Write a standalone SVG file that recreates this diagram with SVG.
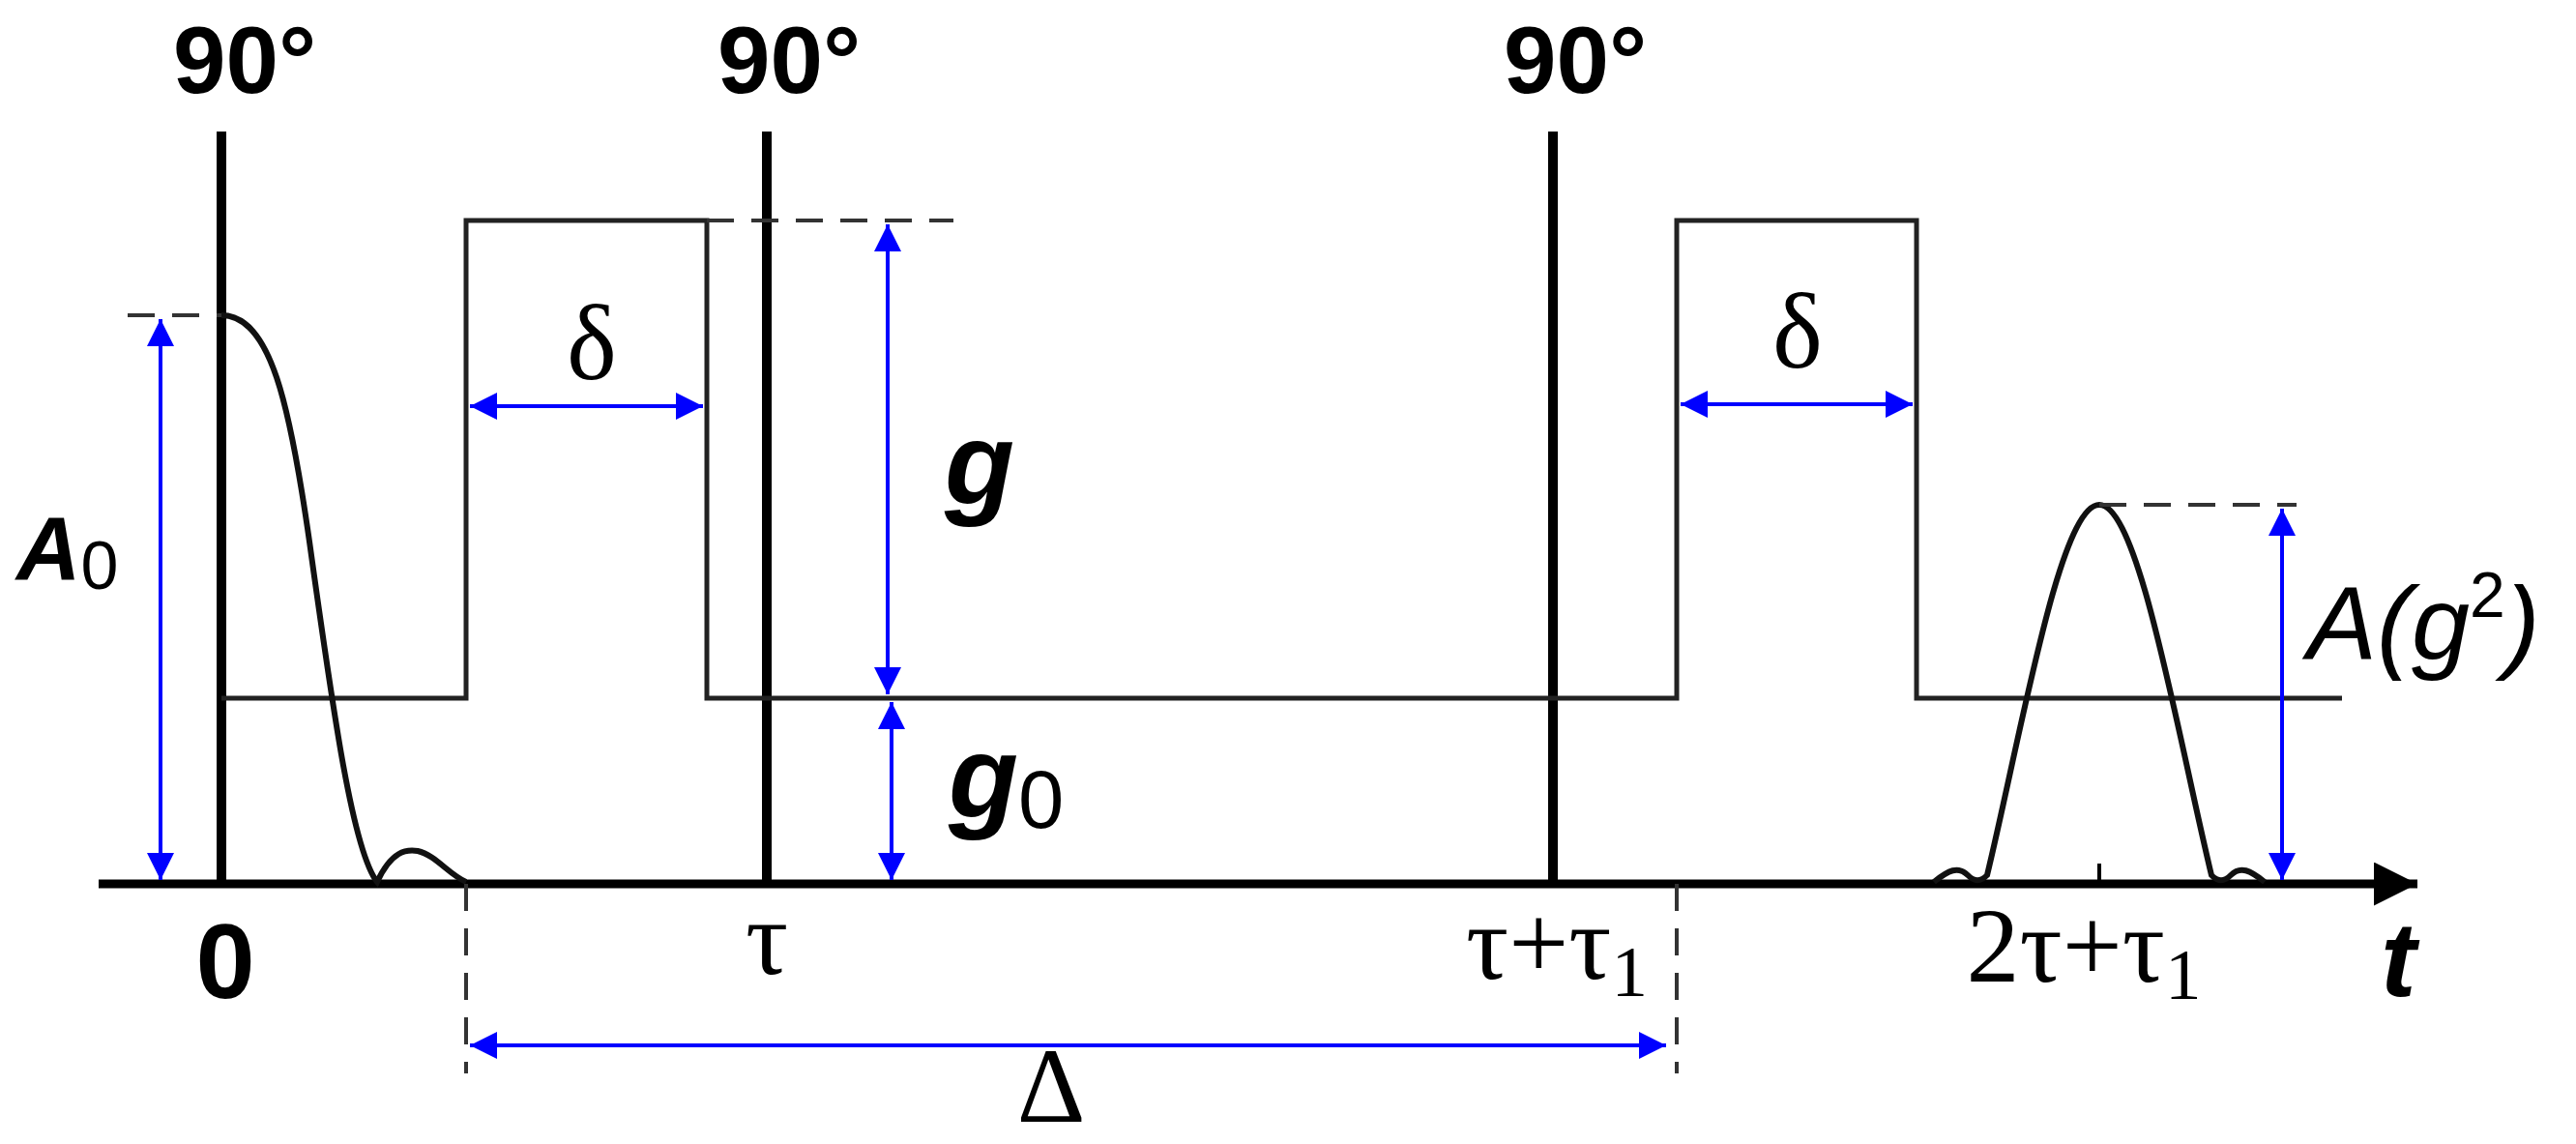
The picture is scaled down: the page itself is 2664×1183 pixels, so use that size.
<svg xmlns="http://www.w3.org/2000/svg" width="2664" height="1183" viewBox="0 0 2664 1183">
<defs>
<marker id="ab" viewBox="0 0 10 10" refX="10" refY="5" markerWidth="10" markerHeight="7" orient="auto-start-reverse" markerUnits="strokeWidth"><path d="M0,0 L10,5 L0,10 z" fill="#0000ff"/></marker>
<marker id="ak" viewBox="0 0 10 10" refX="10" refY="5" markerWidth="5" markerHeight="5" orient="auto" markerUnits="strokeWidth"><path d="M0,0 L10,5 L0,10 z" fill="#000"/></marker>
<style>
.pulse{stroke:#000;stroke-width:10;fill:none}
.thin{stroke:#222;stroke-width:5;fill:none}
.dash{stroke:#333;stroke-width:4;stroke-dasharray:28 18;fill:none}
.blue{stroke:#0000ff;stroke-width:4;fill:none;marker-start:url(#ab);marker-end:url(#ab)}
.lbl{font-family:"Liberation Sans",Arial,sans-serif;font-weight:bold;font-size:98px;text-anchor:middle}
.ser{font-family:"Liberation Serif","Times New Roman",serif;font-size:110px;text-anchor:middle}
.it{font-family:"Liberation Sans",Arial,sans-serif;font-style:italic;font-weight:bold}
</style>
</defs>
<rect width="2664" height="1183" fill="#fff"/>
<g id="axis">
<line x1="102" y1="914" x2="2500" y2="914" stroke="#000" stroke-width="9" marker-end="url(#ak)"/>
<line x1="2171" y1="914" x2="2171" y2="893" stroke="#000" stroke-width="4"/>
</g>
<g id="pulses">
<line class="pulse" x1="229" y1="136" x2="229" y2="914"/>
<line class="pulse" x1="793" y1="136" x2="793" y2="914"/>
<line class="pulse" x1="1606" y1="136" x2="1606" y2="914"/>
<text class="lbl" x="253" y="96">90°</text>
<text class="lbl" x="816" y="96">90°</text>
<text class="lbl" x="1629" y="96">90°</text>
</g>
<g id="gradient">
<path class="thin" d="M229,722 H482 V228 H731 V722 H1734 V228 H1982 V722 H2422"/>
<line class="dash" x1="731" y1="228" x2="986" y2="228"/>
</g>
<g id="signals">
<path d="M229,326 C280,326 300,420 320,560 C345,740 365,880 390,912 C405,880 420,878 432,880 C450,884 465,905 482,912" stroke="#111" stroke-width="6" fill="none"/>
<path d="M2000,912 C2015,900 2025,895 2035,905 C2042,912 2048,912 2055,905 C2090,760 2130,522 2171,522 C2212,522 2252,760 2287,905 C2294,912 2300,912 2307,905 C2317,895 2327,900 2342,912" stroke="#111" stroke-width="6" fill="none"/>
<line class="dash" x1="132" y1="326" x2="229" y2="326"/>
<line class="dash" x1="2171" y1="522" x2="2375" y2="522"/>
<line class="dash" x1="482" y1="914" x2="482" y2="1110"/>
<line class="dash" x1="1734" y1="914" x2="1734" y2="1110"/>
</g>
<g id="connectors">
<line class="blue" x1="166" y1="330" x2="166" y2="910"/>
<line class="blue" x1="918" y1="232" x2="918" y2="718"/>
<line class="blue" x1="922" y1="726" x2="922" y2="910"/>
<line class="blue" x1="486" y1="420" x2="727" y2="420"/>
<line class="blue" x1="1738" y1="418" x2="1978" y2="418"/>
<line class="blue" x1="2360" y1="526" x2="2360" y2="910"/>
<line class="blue" x1="486" y1="1081" x2="1723" y2="1081"/>
</g>
<g id="labels">
<text class="ser" x="612" y="392" font-size="120">δ</text>
<text class="ser" x="1859" y="380" font-size="120">δ</text>
<text class="it" x="977" y="520" font-size="118">g</text>
<text class="it" x="981" y="844" font-size="118">g<tspan font-style="normal" font-weight="normal" font-size="85" dy="12">0</tspan></text>
<text x="17" y="599" font-family="Liberation Sans, Arial, sans-serif" font-size="92" font-style="italic" font-weight="bold">A<tspan font-style="normal" font-weight="normal" font-size="70" dy="10">0</tspan></text>
<text x="2386" y="682" font-family="Liberation Sans, Arial, sans-serif" font-size="108" font-style="italic">A(g<tspan font-style="normal" font-size="66" dy="-44">2</tspan><tspan dy="44">)</tspan></text>
<text x="233" y="1032" font-family="Liberation Sans, Arial, sans-serif" font-weight="bold" font-size="110" text-anchor="middle">0</text>
<text class="ser" x="793" y="1007">τ</text>
<text class="ser" x="1610" y="1012">τ+τ<tspan font-size="75" dy="18">1</tspan></text>
<text class="ser" x="2155" y="1015">2τ+τ<tspan font-size="75" dy="18">1</tspan></text>
<text class="it" x="2462" y="1030" font-size="110">t</text>
<text class="ser" x="1087" y="1160" font-size="84">Δ</text>
</g>
</svg>
